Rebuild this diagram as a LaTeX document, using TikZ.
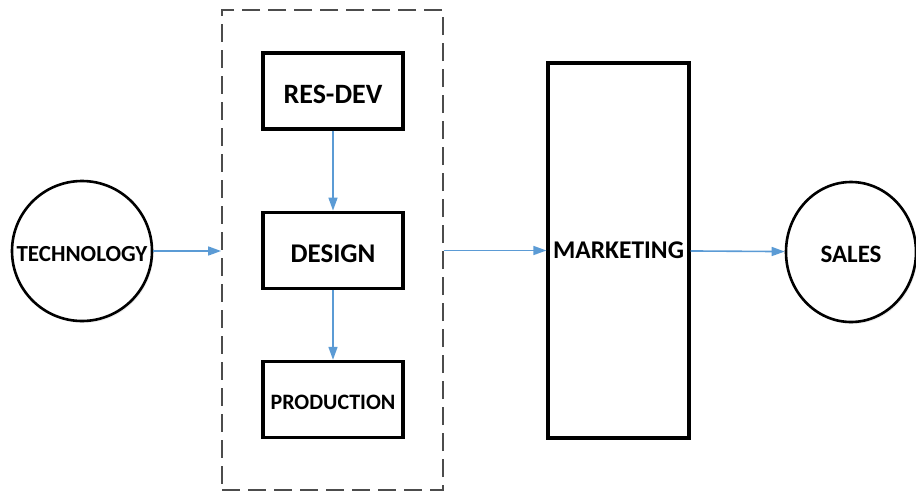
\documentclass[tikz,border=0pt]{standalone}
\usepackage{fontspec}
\setmainfont{Carlito}
\usetikzlibrary{arrows.meta, positioning, shapes.geometric, shadows}
\definecolor{flowblue}{RGB}{91,155,213}

\begin{document}
\begin{tikzpicture}[x=1pt,y=-1pt,>={Triangle[length=13pt,width=9pt]},
  block/.style={draw,line width=3.2pt,rectangle,fill=white,inner sep=0pt,minimum width=140pt,minimum height=76pt,
    drop shadow={opacity=.18,shadow xshift=1.5pt,shadow yshift=-2pt}},
  endpoint/.style={draw,line width=2.6pt,fill=white,inner sep=0pt,
    drop shadow={opacity=.15,shadow xshift=1.5pt,shadow yshift=-2pt}},
  group/.style={draw=black!70,line width=1.8pt,dash pattern=on 18pt off 8pt,rectangle,inner sep=0pt},
  flow/.style={->,draw=flowblue,line width=1.6pt}]
  \useasboundingbox (0,0) rectangle (916,493);
  % department group
  \node[group,minimum width=221pt,minimum height=480pt] (dept) at (332.5,250) {};
  \node[block,font=\bfseries\fontsize{28}{28}\selectfont,text height=25pt,text depth=0pt] (resdev) at (333,91) {RES-DEV};
  \node[block,below=80pt of resdev,font=\bfseries\fontsize{27}{27}\selectfont,text height=24pt,text depth=0pt] (design) {DESIGN};
  \node[block,below=70pt of design,font=\bfseries\fontsize{22}{22}\selectfont,text height=20pt,text depth=0pt] (production) {PRODUCTION};
  % outer stages
  \node[endpoint,circle,minimum size=140pt,font=\bfseries\fontsize{23}{23}\selectfont,text height=21pt,text depth=0pt] (technology) at (82,251) {TECHNOLOGY};
  \node[block,minimum width=141pt,minimum height=375pt,font=\bfseries\fontsize{25.5}{25.5}\selectfont] (marketing) at (618.5,250.5) {MARKETING};
  \node[endpoint,ellipse,minimum width=130pt,minimum height=140pt,font=\bfseries\fontsize{25}{25}\selectfont,text height=20pt,text depth=0pt] (sales) at (851,252) {SALES};
  % flows
  \draw[flow] (technology) -- (dept.west |- technology);
  \draw[flow] (dept.east |- marketing) -- (marketing);
  \draw[flow] (marketing) -- (sales);
  \draw[flow] (resdev) -- (design);
  \draw[flow] (design) -- (production);
\end{tikzpicture}
\end{document}
